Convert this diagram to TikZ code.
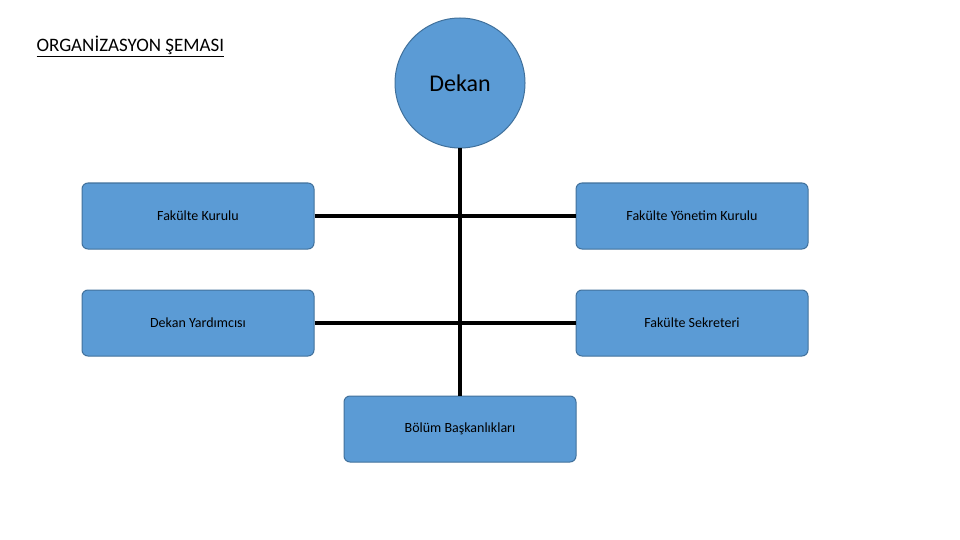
\documentclass[tikz,border=0pt]{standalone}
\usepackage{fontspec}
\setmainfont{Carlito}
\definecolor{bfill}{HTML}{5B9BD5}
\definecolor{bline}{HTML}{41719C}
\begin{document}
\begin{tikzpicture}[x=1pt,y=-1pt,
  box/.style={draw=bline,fill=bfill,rounded corners=6pt,line width=1pt,minimum width=232pt,minimum height=66pt,font=\fontsize{14}{16}\selectfont,inner sep=0pt},
  conn/.style={line width=3.5pt,black}]
\useasboundingbox (0,0) rectangle (960,540);
\node[anchor=base west,font=\fontsize{19}{22}\selectfont] (title) at (33,52) {\underline{ORGANİZASYON ŞEMASI}};
\node[circle,draw=bline,fill=bfill,line width=1pt,minimum size=130pt,inner sep=0pt,font=\fontsize{24}{28}\selectfont] (dekan) at (460,83) {Dekan};
\node[box] (fk) at (198,216) {Fakülte Kurulu};
\node[box] (fyk) at (692,216) {Fakülte Yönetim Kurulu};
\node[box] (dy) at (198,323) {Dekan Yardımcısı};
\node[box] (fs) at (692,323) {Fakülte Sekreteri};
\node[box] (bb) at (460,429) {Bölüm Başkanlıkları};
\coordinate (j1) at (460,216);
\coordinate (j2) at (460,323);
\begin{scope}[on background layer/.try]
\end{scope}
\draw[conn] (dekan.south) -- (bb.north);
\draw[conn] (fk.east) -- (fyk.west);
\draw[conn] (dy.east) -- (fs.west);
\end{tikzpicture}
\end{document}
